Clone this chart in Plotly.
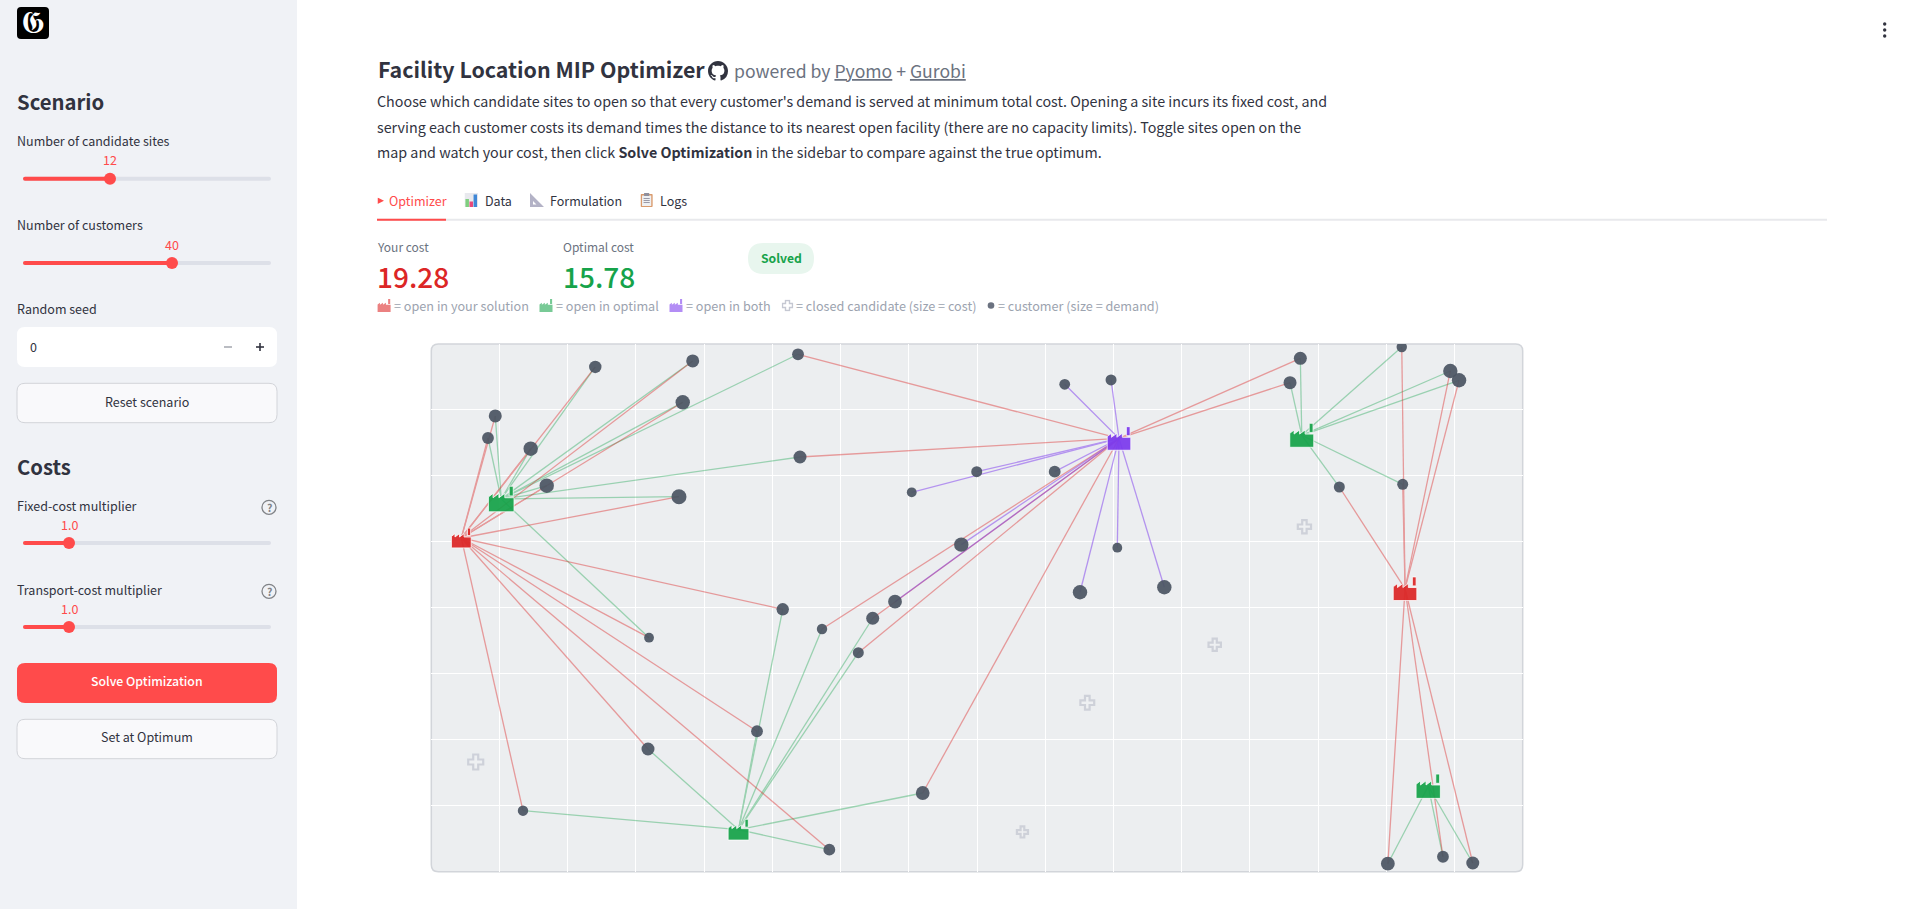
import base64
import plotly.graph_objects as go

# ---------- data (map units: 16 x 8 grid) ----------
customer_x = [2.404, 3.832, 3.686, 0.938, 0.831, 1.457, 1.692, 3.631, 5.376, 5.405,
              5.152, 3.192, 5.728, 6.471, 6.798, 6.260, 4.775, 3.177, 5.835, 1.344,
              7.204, 9.286, 9.965, 7.996, 9.139, 7.043, 7.770, 10.057, 9.510, 10.746,
              12.740, 12.589, 14.227, 14.939, 15.067, 14.241, 13.312, 14.023, 14.831, 15.268]
customer_y = [7.652, 7.743, 7.116, 6.909, 6.575, 6.413, 5.852, 5.685, 7.844, 6.287,
              3.978, 3.548, 3.679, 3.842, 4.093, 3.320, 2.129, 1.860, 0.334, 0.925,
              1.193, 7.389, 7.455, 6.064, 6.064, 5.752, 4.958, 4.912, 4.236, 4.312,
              7.783, 7.414, 7.955, 7.591, 7.450, 5.873, 5.832, 0.121, 0.227, 0.132]
customer_demand = [6.2, 6.5, 7.2, 6.5, 5.9, 7.2, 7.2, 7.5, 5.9, 6.5,
                   6.2, 4.9, 5.2, 6.5, 6.9, 5.5, 5.9, 6.5, 5.9, 5.2,
                   6.9, 5.4, 5.5, 5.5, 5.9, 4.9, 7.2, 4.9, 7.2, 7.2,
                   6.5, 6.5, 5.2, 7.2, 7.2, 5.5, 5.5, 6.9, 5.9, 6.5]

site_names = ["R1", "R2", "G1", "G2", "G3", "G4", "P"]
site_x = [0.440, 14.275, 1.025, 12.761, 4.504, 14.615, 10.082]
site_y = [5.059, 4.290, 5.650, 6.616, 0.637, 1.296, 6.568]
site_cost = [19.8, 23.6, 25.6, 24.0, 20.8, 24.3, 23.6]
site_state = ["yours", "yours", "optimal", "optimal", "optimal", "optimal", "both"]

closed_x = [0.651, 12.800, 11.485, 9.617, 8.666]
closed_y = [1.663, 5.230, 3.441, 2.562, 0.602]
closed_cost = [12.5, 11.0, 10.3, 11.5, 9.2]

# which open site serves each customer in each solution
your_assign = ["R1", "R1", "R1", "R1", "R1", "R1", "R1", "R1", "P", "P",
               "R1", "R1", "P", "P", "P", "P", "R1", "R1", "R1", "R1",
               "P", "P", "P", "P", "P", "P", "P", "P", "P", "P",
               "P", "P", "R2", "R2", "R2", "R2", "R2", "R2", "R2", "R2"]
opt_assign = ["G1", "G1", "G1", "G1", "G1", "G1", "G1", "G1", "G1", "G1",
              "G3", "G1", "G3", "G3", "P", "G3", "G3", "G3", "G3", "G3",
              "G3", "P", "P", "P", "P", "P", "P", "P", "P", "P",
              "G2", "G2", "G2", "G2", "G2", "G2", "G2", "G4", "G4", "G4"]

your_cost = "19.28"
optimal_cost = "15.78"

# ---------- styles ----------
W, H = 1910, 909
FONT = "Noto Sans CJK SC"
INK = "#31333f"
RED, GREEN, PURPLE = "#dc2626", "#16a34a", "#7c3aed"
ACCENT = "#ff4b4b"
MAP_BOX = (431.3, 344.0, 1522.7, 871.7)


def px(x):
    return x / W


def py(y):
    return 1 - y / H


def rrect(x0, y0, x1, y1, r, fill, line=None, lw=0, layer="below"):
    a, b, c, d = px(x0), py(y0), px(x1), py(y1)
    rx, ry = r / W, r / H
    path = (f"M{a+rx},{b} L{c-rx},{b} Q{c},{b} {c},{b-ry} L{c},{d+ry} Q{c},{d} {c-rx},{d} "
            f"L{a+rx},{d} Q{a},{d} {a},{d+ry} L{a},{b-ry} Q{a},{b} {a+rx},{b} Z")
    return dict(type="path", path=path, xref="paper", yref="paper", fillcolor=fill,
                line=dict(color=line or fill, width=lw), layer=layer)


def circle(cx, cy, r, fill, line=None, lw=0):
    return dict(type="circle", xref="paper", yref="paper",
                x0=px(cx - r), x1=px(cx + r), y0=py(cy + r), y1=py(cy - r),
                fillcolor=fill, line=dict(color=line or fill, width=lw), layer="above")


def label(x, y, s, size=12.5, color=INK, anchor="left", weight=400, family=FONT):
    xx = x - 1 if anchor == "left" else x
    return dict(x=px(xx), y=py(y - 0.7), xref="paper", yref="paper", text=s, showarrow=False,
                xanchor=anchor, yanchor="middle", borderpad=0,
                font=dict(family=family, size=size, color=color, weight=weight))


def factory_path(s):
    pts = [(-.5, .08), (-.32, .22), (-.32, .05), (-.09, .22), (-.09, .05), (.14, .22), (.14, .05),
           (.5, .05), (.5, -.5), (-.5, -.5)]
    chimney = [(.31, .12), (.31, .5), (.47, .5), (.47, .12)]
    d = "M" + " L".join(f"{a*s:.2f},{b*s:.2f}" for a, b in pts) + " Z "
    d += "M" + " L".join(f"{a*s:.2f},{b*s:.2f}" for a, b in chimney) + " Z"
    return d


def svg_image(svg, x0, y0, x1, y1):
    src = "data:image/svg+xml;base64," + base64.b64encode(svg.encode()).decode()
    return dict(source=src, xref="paper", yref="paper", x=px(x0), y=py(y0),
                sizex=(x1 - x0) / W, sizey=(y1 - y0) / H, sizing="stretch",
                xanchor="left", yanchor="top", layer="above")


shapes, notes, images = [], [], []

# ---------- sidebar ----------
shapes.append(dict(type="rect", xref="paper", yref="paper", x0=0, x1=px(297), y0=0, y1=1,
                   fillcolor="#f0f2f6", line=dict(width=0), layer="below"))
shapes.append(rrect(17, 7, 49, 39, 4, "#000000", layer="above"))
notes.append(label(33, 23, "𝕲", size=31, color="#ffffff", anchor="center", family="DejaVu Serif"))
notes.append(label(17, 102, "Scenario", size=20.3, weight=600))
notes.append(label(17, 466.3, "Costs", size=20.3, weight=600))


def slider(title, title_y, track_y, thumb_x, value):
    notes.append(label(17, title_y, title))
    shapes.append(rrect(23, track_y - 2, 271, track_y + 2, 2, "#dde0e8", layer="above"))
    shapes.append(rrect(23, track_y - 2, thumb_x, track_y + 2, 2, ACCENT, layer="above"))
    shapes.append(circle(thumb_x, track_y, 6, ACCENT))
    notes.append(label(thumb_x, track_y - 18.2, value, color=ACCENT, anchor="center"))


slider("Number of candidate sites", 141.5, 178.7, 110, "12")
slider("Number of customers", 225.3, 263, 172, "40")
slider("Fixed-cost multiplier", 505.7, 543, 69, "1.0")
slider("Transport-cost multiplier", 589.7, 627, 69, "1.0")

notes.append(label(17, 309.3, "Random seed"))
shapes.append(rrect(17, 327, 277, 367, 8, "#ffffff", layer="above"))
notes.append(label(30, 346.7, "0"))
shapes.append(dict(type="line", xref="paper", yref="paper", x0=px(224), x1=px(232),
                   y0=py(347), y1=py(347), line=dict(color="#a9abb3", width=1.6), layer="above"))
for xa, xb, ya, yb in [(256, 264, 347, 347), (260, 260, 343, 351)]:
    shapes.append(dict(type="line", xref="paper", yref="paper", x0=px(xa), x1=px(xb),
                       y0=py(ya), y1=py(yb), line=dict(color=INK, width=1.6), layer="above"))
shapes.append(rrect(17, 383.3, 277, 422.7, 8, "#f9f9fb", "#d2d4d9", 1, layer="above"))
notes.append(label(147, 401.7, "Reset scenario", anchor="center"))
for cy in (507.3, 591.3):
    shapes.append(circle(269, cy, 7, "#f0f2f6", "#808387", 1.3))
    notes.append(label(269, cy + 0.7, "?", size=10.5, color="#808387", anchor="center", weight=600))
shapes.append(rrect(17, 663, 277, 703, 8, ACCENT, layer="above"))
notes.append(label(147, 681.3, "Solve Optimization", size=12.3, color="#ffffff", anchor="center", weight=500))
shapes.append(rrect(17, 719.3, 277, 758.7, 8, "#f9f9fb", "#d2d4d9", 1, layer="above"))
notes.append(label(147, 737.3, "Set at Optimum", anchor="center"))

# ---------- header ----------
notes.append(label(377.6, 69.3, "Facility Location MIP Optimizer", size=21.4, weight=700))
github = ('<svg xmlns="http://www.w3.org/2000/svg" viewBox="0 0 16 16"><path fill="#31333f" d="M8 0C3.58 0 0 3.58 0 8'
          'c0 3.54 2.29 6.53 5.47 7.59.4.07.55-.17.55-.38 0-.19-.01-.82-.01-1.49-2.01.37-2.53-.49-2.69-.94-.09-.23-.48-.94'
          '-.82-1.13-.28-.15-.68-.52-.01-.53.63-.01 1.08.58 1.23.82.72 1.21 1.87.87 2.33.66.07-.52.28-.87.51-1.07-1.78-.2'
          '-3.64-.89-3.64-3.95 0-.87.31-1.59.82-2.15-.08-.2-.36-1.02.08-2.12 0 0 .67-.21 2.2.82.64-.18 1.32-.27 2-.27.68 0'
          ' 1.36.09 2 .27 1.53-1.04 2.2-.82 2.2-.82.44 1.1.16 1.92.08 2.12.51.56.82 1.27.82 2.15 0 3.07-1.87 3.75-3.65 3.95'
          '.29.25.54.73.54 1.48 0 1.07-.01 1.93-.01 2.2 0 .21.15.46.55.38A8.013 8.013 0 0016 8c0-4.42-3.58-8-8-8z"/></svg>')
images.append(svg_image(github, 708, 61, 728, 81))
U = '<span style="text-decoration:underline">'
notes.append(label(734.3, 71.7, f"powered by {U}Pyomo</span> + {U}Gurobi</span>", size=17.6, color="#6b7280"))
notes.append(label(377, 101, "Choose which candidate sites to open so that every customer's demand is served at "
                             "minimum total cost. Opening a site incurs its fixed cost, and", size=14.3))
notes.append(label(377, 127, "serving each customer costs its demand times the distance to its nearest open "
                             "facility (there are no capacity limits). Toggle sites open on the", size=14.3))
notes.append(label(377, 152, "map and watch your cost, then click <b>Solve Optimization</b> in the sidebar to "
                             "compare against the true optimum.", size=14.3))

# ---------- tabs ----------
notes.append(label(388.7, 200.7, "Optimizer", color=ACCENT))
notes.append(label(484.8, 200.7, "Data"))
notes.append(label(549.8, 200.7, "Formulation"))
notes.append(label(659.7, 200.7, "Logs"))
images.append(svg_image('<svg xmlns="http://www.w3.org/2000/svg" viewBox="0 0 3 3"><path fill="#ff4b4b" d="M0 0L3 1.5L0 3Z"/></svg>',
                        377.5, 197.5, 384, 204))
images.append(svg_image('<svg xmlns="http://www.w3.org/2000/svg" viewBox="0 0 14 14"><rect width="14" height="14" fill="#e8e9ee"/>'
                        '<rect x="1" y="6" width="3.6" height="8" fill="#7fcf7f"/><rect x="5.2" y="8.5" width="3.6" height="5.5" fill="#e8487a"/>'
                        '<rect x="9.4" y="1.5" width="3.6" height="12.5" fill="#3f87d6"/></svg>', 464.5, 193, 478, 207))
images.append(svg_image('<svg xmlns="http://www.w3.org/2000/svg" viewBox="0 0 14 14"><path fill-rule="evenodd" fill="#b3b2c6" d="M0 0L14 14L0 14Z'
                        'M3 8L3 11.5L6.5 11.5Z"/></svg>', 530, 193, 544, 207))
images.append(svg_image('<svg xmlns="http://www.w3.org/2000/svg" viewBox="0 0 12 14"><rect y="1" width="12" height="13" rx="1" fill="#d99a6c"/>'
                        '<rect x="1.5" y="2.5" width="9" height="10.5" fill="#eef0f3"/><rect x="3.5" y="0" width="5" height="3" fill="#8f8f9c"/>'
                        '<path stroke="#9a9aa8" d="M3 5.5H9M3 7.5H9M3 9.5H9"/></svg>', 640.5, 193, 652.8, 207))
shapes.append(dict(type="rect", xref="paper", yref="paper", x0=px(377), x1=px(1827),
                   y0=py(220.7), y1=py(218.7), fillcolor="#e8e9ec", line=dict(width=0), layer="above"))
shapes.append(dict(type="rect", xref="paper", yref="paper", x0=px(377), x1=px(446),
                   y0=py(220.7), y1=py(218.7), fillcolor=ACCENT, line=dict(width=0), layer="above"))

# ---------- metrics ----------
notes.append(label(377, 247.7, "Your cost", color="#6b7280", size=12))
notes.append(label(562.8, 247.7, "Optimal cost", color="#6b7280", size=12))
notes.append(label(377, 276.3, your_cost, size=28, color=RED, weight=500))
notes.append(label(562.8, 276.3, optimal_cost, size=28, color=GREEN, weight=500))
shapes.append(rrect(748, 243, 814, 274, 15.5, "#e8f6ee", layer="above"))
notes.append(label(781, 258.5, "Solved", size=12.2, color=GREEN, anchor="center", weight=600))

# ---------- legend ----------
LEG = "#9ca3af"
for lx, colour in [(384.1, RED), (546, GREEN), (676, PURPLE)]:
    shapes.append(dict(type="path", xref="paper", yref="paper", xsizemode="pixel", ysizemode="pixel",
                       xanchor=px(lx), yanchor=py(305.5), path=factory_path(13), fillcolor=colour,
                       opacity=0.58, line=dict(width=0), layer="above"))
notes.append(label(393.7, 305.7, "= open in your solution", size=12.65, color=LEG))
notes.append(label(556, 305.7, "= open in optimal", size=12.65, color=LEG))
notes.append(label(686, 305.7, "= open in both", size=12.65, color=LEG))
notes.append(label(796.3, 305.7, "= closed candidate (size = cost)", size=12.65, color=LEG))
notes.append(label(997.5, 305.7, "= customer (size = demand)", size=12.65, color=LEG))
images.append(svg_image('<svg xmlns="http://www.w3.org/2000/svg" viewBox="0 0 12 12"><path fill="#fff" stroke="#c5c8d2" stroke-width="1.4" '
                        'd="M4 1H8V4H11V8H8V11H4V8H1V4H4Z"/></svg>', 781.5, 299.5, 793.5, 311.5))
shapes.append(circle(991, 305.5, 3.3, "#6b7280"))

# top-right menu
for my in (24, 30, 36):
    shapes.append(circle(1884.7, my, 1.7, INK))

# ---------- map ----------
shapes.append(rrect(*MAP_BOX, 7, "#eceef0", "#d2d5da", 1.5, layer="below"))
site_pos = {n: (a, b) for n, a, b in zip(site_names, site_x, site_y)}
state_colour = {"yours": RED, "optimal": GREEN, "both": PURPLE}


def segments(assignments):
    xs, ys = [], []
    for cx, cy, a in zip(customer_x, customer_y, assignments):
        if a is not None:
            sx, sy = site_pos[a]
            xs += [cx, sx, None]
            ys += [cy, sy, None]
    return xs, ys


def link_trace(xy, colour, opacity):
    return go.Scatter(x=xy[0], y=xy[1], mode="lines", hoverinfo="skip", showlegend=False,
                      line=dict(color=colour, width=1.3), opacity=opacity)


both = [a if a == b else None for a, b in zip(your_assign, opt_assign)]
only_y = [a if a != b else None for a, b in zip(your_assign, opt_assign)]
only_o = [b if a != b else None for a, b in zip(your_assign, opt_assign)]

fig = go.Figure()
fig.add_trace(link_trace(segments(only_o), GREEN, 0.38))
fig.add_trace(link_trace(segments(only_y), RED, 0.42))
fig.add_trace(link_trace(segments(both), PURPLE, 0.5))
fig.add_trace(go.Scatter(x=closed_x, y=closed_y, mode="markers", hoverinfo="skip", showlegend=False,
                         marker=dict(symbol="cross", size=closed_cost, color="#f0f1f3",
                                     line=dict(color="#c2c5d0", width=2.2))))
fig.add_trace(go.Scatter(x=customer_x, y=customer_y, mode="markers", hoverinfo="skip", showlegend=False,
                         marker=dict(size=[2 * d for d in customer_demand], color="#4b5563", opacity=0.93,
                                     line=dict(width=0))))
for sx, sy, cost, state in zip(site_x, site_y, site_cost, site_state):
    shapes.append(dict(type="path", xref="x", yref="y", xsizemode="pixel", ysizemode="pixel",
                       xanchor=sx, yanchor=sy, path=factory_path(cost),
                       fillcolor=state_colour[state], opacity=0.93,
                       line=dict(color="#ffffff", width=0.8), layer="above"))

axis_common = dict(showticklabels=False, ticks="", zeroline=False, showline=False,
                   gridcolor="#ffffff", gridwidth=1.4, fixedrange=True, tickmode="array")
fig.update_layout(
    width=W, height=H, margin=dict(l=0, r=0, t=0, b=0), showlegend=False,
    paper_bgcolor="#ffffff", plot_bgcolor="rgba(0,0,0,0)",
    font=dict(family=FONT, color=INK),
    xaxis=dict(domain=[px(MAP_BOX[0]), px(MAP_BOX[2])], range=[0, 16], tickvals=list(range(1, 16)), **axis_common),
    yaxis=dict(domain=[py(MAP_BOX[3]), py(MAP_BOX[1])], range=[0, 8], tickvals=list(range(1, 8)), **axis_common),
    shapes=shapes, annotations=notes, images=images,
)
fig.write_html("out.html", config=dict(displayModeBar=False, responsive=False),
               post_script="document.body.style.margin='0';document.body.style.overflow='hidden';")
